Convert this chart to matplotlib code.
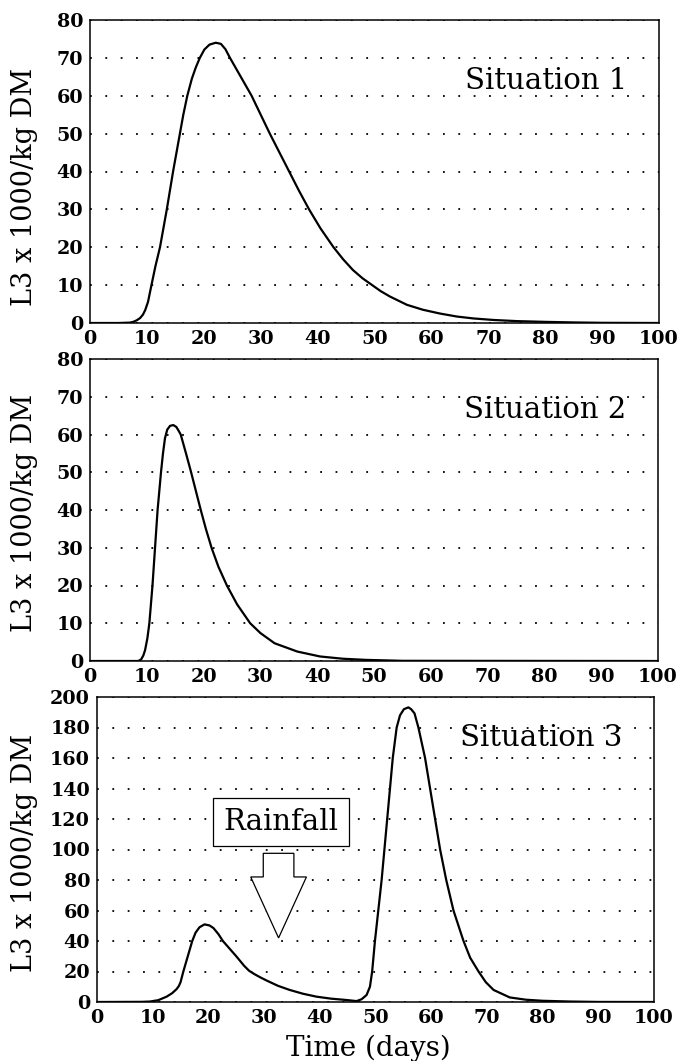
import matplotlib
matplotlib.use("Agg")
import matplotlib.pyplot as plt
from matplotlib.patches import Polygon

plt.rcParams['font.family'] = ['DejaVu Serif']

# Situation 1
t1 = [0, 5, 7, 7.6, 8.2, 8.8, 9.3, 9.7, 10.2, 10.8, 11.5, 12.3, 12.9, 13.5, 14.05,
      14.6, 15.2, 15.8, 16.4, 17.1, 17.9, 18.6, 19.3, 20.1, 21.0, 22.1, 23.0, 23.8,
      24.6, 26.5, 28.4, 30.0, 31.6, 33.3, 35.0, 36.7, 38.5, 40.5, 42.8, 44.5, 46.2,
      47.9, 49.5, 51.1, 52.7, 55.7, 58.5, 61.5, 64.5, 67.4, 70.9, 75, 80, 85, 90, 100]
l3_1 = [0, 0, 0.1, 0.3, 0.7, 1.3, 2.2, 3.4, 5.6, 10, 15, 20, 25, 30, 35,
        40, 45, 50, 55, 60, 64.5, 67.5, 70, 72.2, 73.5, 74, 73.7, 72.3,
        70, 65, 60, 55, 50, 45, 40, 35, 30, 25, 20, 16.8, 14.0,
        11.8, 10.1, 8.4, 7.0, 4.8, 3.5, 2.5, 1.7, 1.2, 0.8, 0.5, 0.3, 0.15, 0.05, 0]

# Situation 2
t2 = [0, 8.5, 9.0, 9.4, 9.7, 10.1, 10.45, 11.0, 11.45, 11.9, 12.5, 12.85, 13.2,
      13.6, 14.1, 14.67, 15.2, 15.6, 15.97, 16.9, 17.8, 18.65, 19.5, 20.4, 21.4,
      22.6, 24.1, 25.9, 28.2, 30, 32.5, 36.5, 40.5, 44.5, 48.5, 55, 100]
l3_2 = [0, 0, 0.4, 1.5, 2.9, 6, 10, 20, 30, 40, 50, 55, 59,
        61.3, 62.3, 62.5, 62, 61, 60, 55, 50, 45, 40, 35, 30,
        25, 20, 15, 10, 7.4, 4.7, 2.5, 1.2, 0.6, 0.3, 0.05, 0]

# Situation 3
t3 = [0, 8, 9.5, 11, 12.5, 13.5, 14.3, 14.7, 15.0, 15.5, 16.3, 17.1, 17.7, 18.4,
      19.3, 20.2, 20.9, 21.8, 22.6, 23.8, 25.0, 26.4, 27.3, 28.3, 29.4, 30.5, 32.5,
      34.6, 37, 39.4, 42, 44.8, 46.6, 47.5, 48.4, 49.0, 49.4, 49.9, 50.5, 51.1,
      51.6, 52.1, 52.6, 53.1, 53.8, 54.4, 55.1, 55.9, 56.4, 57.0, 57.7, 58.9, 59.8,
      60.7, 61.6, 62.7, 64.0, 65.8, 67.0, 68.5, 69.8, 71.2, 74.1, 77, 80, 85, 90, 100]
l3_3 = [0, 0.1, 0.3, 1.2, 3.5, 5.8, 8.5, 10.5, 13, 20, 30, 40, 45.5, 49,
        50.9, 50.2, 48.5, 44.5, 40, 35, 30, 23.8, 20.5, 18.2, 16, 14, 10.6,
        7.9, 5.4, 3.5, 2.2, 1.3, 0.6, 1.8, 4.6, 10, 20, 40, 60, 80,
        100, 120, 140, 160, 180, 188, 192, 193.2, 192, 189.3, 180, 160, 140,
        120, 100, 80, 60, 40, 29, 20, 13, 7.9, 3, 1.5, 0.8, 0.3, 0.05, 0]

series = [(t1, l3_1), (t2, l3_2), (t3, l3_3)]
labels = ["Situation 1", "Situation 2", "Situation 3"]
label_y = [64, 66.5, 173]
y_max = [80, 80, 200]
y_step = [10, 10, 20]
x_ticks = list(range(0, 101, 10))

# axes boxes in pixels: left, right, top, bottom
W, H = 677, 1061
boxes = [(90, 659, 20, 323), (90, 658, 359, 661), (97, 654, 697, 1002)]

fig = plt.figure(figsize=(W / 100, H / 100), dpi=100)

axes = []
for i, (l, r, t, b) in enumerate(boxes):
    ax = fig.add_axes([l / W, 1 - b / H, (r - l) / W, (b - t) / H])
    x, y = series[i]
    ax.plot(x, y, color="black", lw=1.6)
    ax.set_xlim(0, 100)
    ax.set_ylim(0, y_max[i])
    ax.set_xticks(x_ticks)
    ax.set_yticks(range(0, y_max[i] + 1, y_step[i]))
    ax.tick_params(length=0, labelsize=13.8)
    ax.tick_params(axis="x", pad=5)
    ax.tick_params(axis="y", pad=5)
    for lab in ax.get_xticklabels() + ax.get_yticklabels():
        lab.set_fontweight("bold")
    ax.yaxis.grid(True, color="black", lw=1.3, linestyle=(0, (1, 7.5)))
    ax.set_axisbelow(True)
    for sp in ax.spines.values():
        sp.set_linewidth(1.1)
    ax.set_ylabel("L3 x 1000/kg DM", fontsize=19.5, va="center")
    ax.yaxis.set_label_coords((25 - l) / (r - l), 0.45 if i == 0 else 0.49)
    ax.text(0.944, label_y[i] / y_max[i], labels[i], transform=ax.transAxes,
            ha="right", va="center", fontsize=21)
    axes.append(ax)

ax3 = axes[2]
ax3.set_xlabel("Time (days)", fontsize=20, va="center")
ax3.xaxis.set_label_coords(0.487, -0.151)

# rainfall box and hollow arrow
ax3.text(33.0, 118, "Rainfall", ha="center", va="center", fontsize=21,
         bbox=dict(boxstyle="square,pad=0.35", fc="white", ec="black", lw=0.9))
ax_c, shaft_top, shoulder, tip = 32.6, 97.5, 82.0, 42.0
shaft_hw, head_hw = 2.75, 5.0
arrow = Polygon([(ax_c - shaft_hw, shaft_top), (ax_c + shaft_hw, shaft_top),
                 (ax_c + shaft_hw, shoulder), (ax_c + head_hw, shoulder),
                 (ax_c, tip), (ax_c - head_hw, shoulder),
                 (ax_c - shaft_hw, shoulder)],
                closed=True, fc="white", ec="black", lw=0.9, zorder=3)
ax3.add_patch(arrow)

fig.savefig("out.png", dpi=100)
